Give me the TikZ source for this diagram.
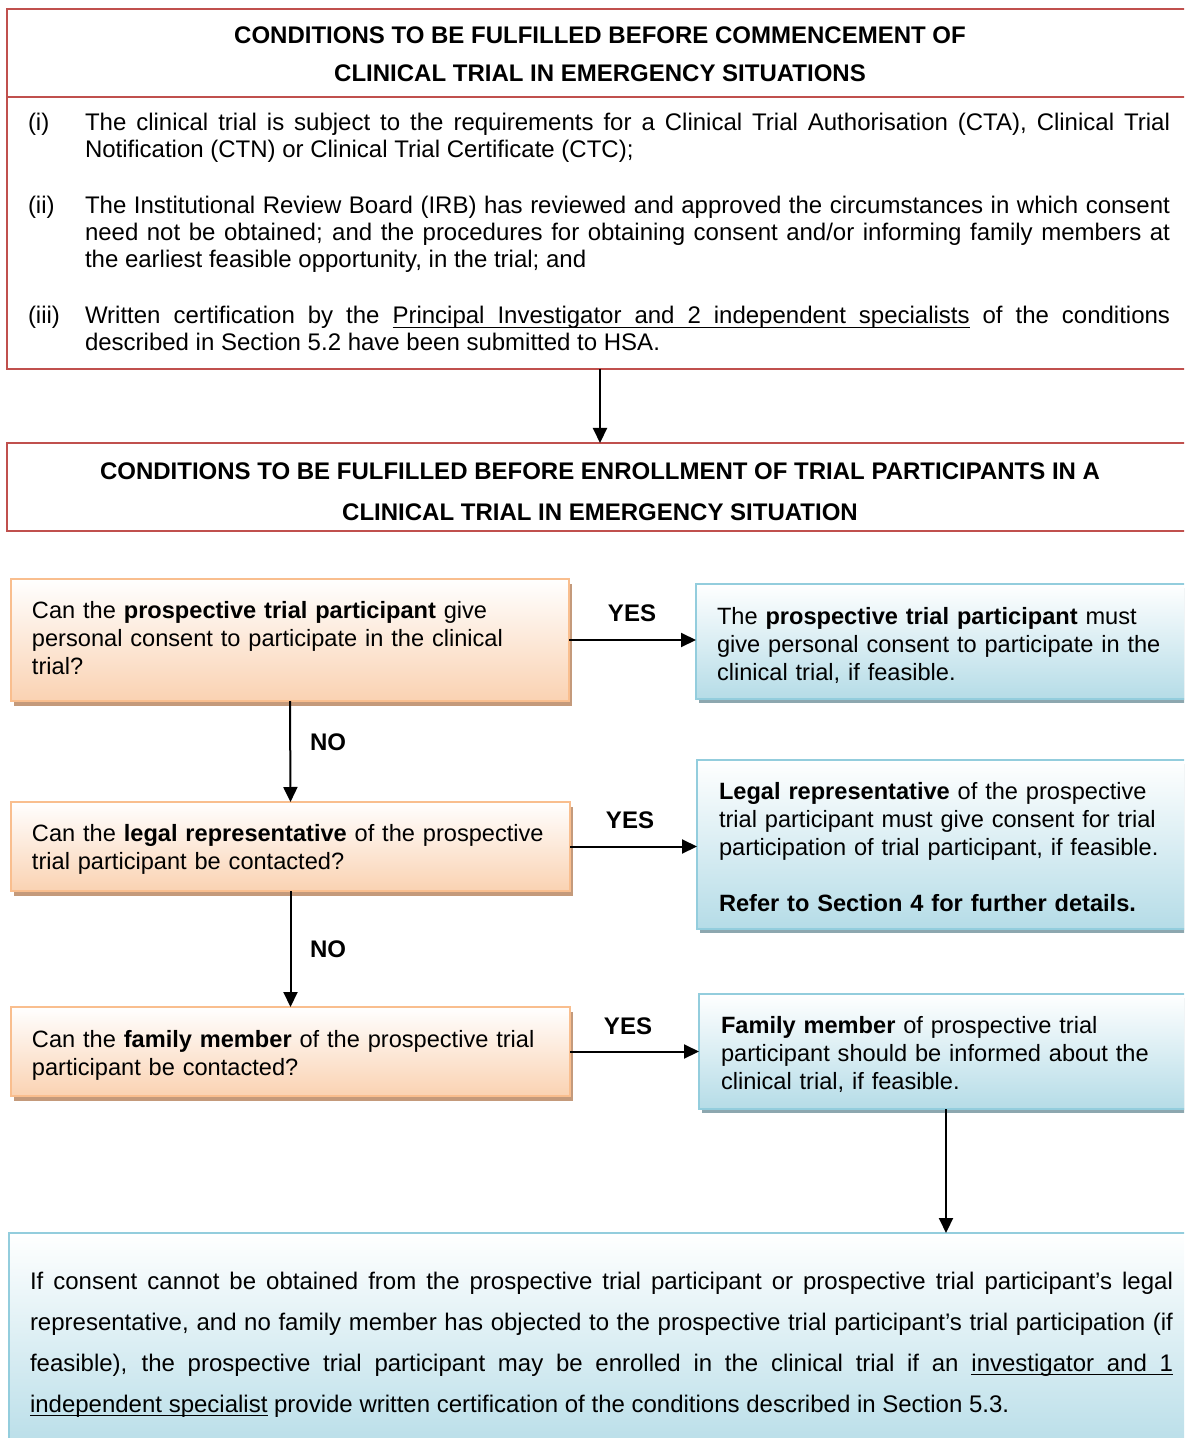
\documentclass[tikz,border=0pt]{standalone}
\usepackage{fontspec}
\setmainfont{Liberation Sans}
\usetikzlibrary{arrows.meta,shadows}

% underlined word and underlined stretchable interword space
\newcommand\ulw[1]{\setbox0\hbox{#1}\rlap{\vrule height -1.5pt depth 2.2pt width \wd0}\box0\relax}
\newcommand\uls{\leaders\hrule height -1.5pt depth 2.2pt\hskip\fontdimen2\font plus\fontdimen3\font minus\fontdimen4\font\relax}

\definecolor{redline}{HTML}{C0504D}
\definecolor{orline}{HTML}{F9BE8E}
\definecolor{orfill}{HTML}{FAD2B2}
\definecolor{orshade}{HTML}{C49A7B}
\definecolor{blline}{HTML}{93CDDD}
\definecolor{blfill}{HTML}{B5DCE7}
\definecolor{blshade}{HTML}{8DA7AF}

\tikzset{
  x=0.5pt, y=-0.5pt,
  every node/.style={inner sep=0pt, outer sep=0pt},
  redbox/.style={rectangle, draw=redline, line width=1pt, fill=white, anchor=north west},
  orbox/.style={rectangle, draw=orline, line width=1pt, anchor=north west,
    top color=white, bottom color=orfill,
    general shadow={fill=orshade, shadow xshift=1.5pt, shadow yshift=-2.5pt}},
  blbox/.style={rectangle, draw=blline, line width=1pt, anchor=north west,
    top color=white, bottom color=blfill,
    general shadow={fill=blshade, shadow xshift=1.5pt, shadow yshift=-2pt}},
  endbox/.style={rectangle, draw=blline, line width=1pt, anchor=north west,
    top color=white, bottom color=blfill},
  body/.style={anchor=base west, font=\fontsize{12pt}{13.5pt}\selectfont},
  boxtxt/.style={anchor=base west, text width=265pt, align=left, font=\fontsize{11.8pt}{14pt}\selectfont},
  headtxt/.style={anchor=base, align=center, font=\fontsize{12pt}{19pt}\selectfont\bfseries},
  lbl/.style={anchor=base, font=\fontsize{12pt}{14pt}\selectfont\bfseries},
  arr/.style={line width=1pt, -{Triangle[length=7.5pt,width=7pt]}},
}

\begin{document}
\begin{tikzpicture}
\useasboundingbox (0,0) rectangle (1184,1438);
\clip (0,0) rectangle (1184,1438);

% ---- commencement conditions ----
\node[redbox, minimum width=593pt, minimum height=180pt] (red1) at (7,9) {};
\coordinate (divl) at (7,97);
\draw[redline, line width=1pt] (divl) -- (divl -| red1.east);
\node[headtxt] (h1a) at (600,44) {CONDITIONS TO BE FULFILLED BEFORE COMMENCEMENT OF};
\node[headtxt] (h1b) at (600,82) {CLINICAL TRIAL IN EMERGENCY SITUATIONS};

\node[body] (l1) at (28,131) {(i)};
\node[body, text width=542.5pt, align=justify] (p1) at (85,131)
  {The clinical trial is subject to the requirements for a Clinical Trial Authorisation (CTA), Clinical Trial\linebreak
   Notification (CTN) or Clinical Trial Certificate (CTC);};
\node[body] (l2) at (28,214) {(ii)};
\node[body, text width=542.5pt, align=justify] (p2) at (85,214)
  {The Institutional Review Board (IRB) has reviewed and approved the circumstances in which consent\linebreak
   need not be obtained; and the procedures for obtaining consent and/or informing family members at\linebreak
   the earliest feasible opportunity, in the trial; and};
\node[body] (l3) at (28,324) {(iii)};
\node[body, text width=542.5pt, align=justify] (p3) at (85,324)
  {Written certification by the \ulw{Principal}\uls\ulw{Investigator}\uls\ulw{and}\uls\ulw{2}\uls\ulw{independent}\uls\ulw{specialists} of the conditions\linebreak
   described in Section 5.2 have been submitted to HSA.};

% ---- enrollment conditions ----
\node[redbox, minimum width=593pt, minimum height=44pt] (red2) at (7,443) {};
\node[headtxt] (h2a) at (600,479) {CONDITIONS TO BE FULFILLED BEFORE ENROLLMENT OF TRIAL PARTICIPANTS IN A};
\node[headtxt] (h2b) at (600,520) {CLINICAL TRIAL IN EMERGENCY SITUATION};

% ---- questions ----
\node[orbox, minimum width=279pt, minimum height=61pt] (q1) at (11,579) {};
\node[boxtxt] (q1t) at (32,618) {Can the \textbf{prospective trial participant} give\\
  personal consent to participate in the clinical\\ trial?};
\node[orbox, minimum width=279.5pt, minimum height=44.5pt] (q2) at (11,802) {};
\node[boxtxt] (q2t) at (32,841) {Can the \textbf{legal representative} of the prospective\\
  trial participant be contacted?};
\node[orbox, minimum width=279.5pt, minimum height=44.5pt] (q3) at (11,1007) {};
\node[boxtxt] (q3t) at (32,1047) {Can the \textbf{family member} of the prospective trial\\
  participant be contacted?};

% ---- outcomes ----
\node[blbox, minimum width=248.5pt, minimum height=57.5pt] (b1) at (696,584) {};
\node[boxtxt] (b1t) at (717,624) {The \textbf{prospective trial participant} must\\
  give personal consent to participate in the\\ clinical trial, if feasible.};
\node[blbox, minimum width=248pt, minimum height=84.5pt] (b2) at (697,760) {};
\node[boxtxt] (b2t) at (719,799) {\textbf{Legal representative} of the prospective\\
  trial participant must give consent for trial\\
  participation of trial participant, if feasible.\\[14pt]
  \textbf{Refer to Section 4 for further details.}};
\node[blbox, minimum width=247pt, minimum height=57.5pt] (b3) at (699,994) {};
\node[boxtxt] (b3t) at (721,1033) {\textbf{Family member} of prospective trial\\
  participant should be informed about the\\ clinical trial, if feasible.};

% ---- final outcome ----
\node[endbox, minimum width=592pt, minimum height=113.5pt] (b4) at (9,1233) {};
\node[body, font=\fontsize{12pt}{20.5pt}\selectfont, text width=571.5pt, align=justify] (b4t) at (30,1289)
  {If consent cannot be obtained from the prospective trial participant or prospective trial participant’s legal\linebreak
   representative, and no family member has objected to the prospective trial participant’s trial participation (if\linebreak
   feasible), the prospective trial participant may be enrolled in the clinical trial if an \ulw{investigator}\uls\ulw{and}\uls\ulw{1}\linebreak
   \ulw{independent}\uls\ulw{specialist} provide written certification of the conditions described in Section 5.3.};

% ---- connectors ----
\draw[arr] (red1.south) -- (red2.north);
\draw[arr] (q1.east) -- (q1.east -| b1.west);
\draw[arr] (q2.east) -- (q2.east -| b2.west);
\draw[arr] (q3.east) -- (q3.east -| b3.west);
\draw[arr] (q1.south) -- (q2.north);
\draw[arr] (q2.south) -- (q3.north);
\draw[arr] (b3.south) -- (b3.south |- b4.north);

\node[lbl] (yes1) at (632,621) {YES};
\node[lbl] (yes2) at (630,828) {YES};
\node[lbl] (yes3) at (628,1034) {YES};
\node[lbl] (no1) at (328,750) {NO};
\node[lbl] (no2) at (328,957) {NO};
\end{tikzpicture}
\end{document}
